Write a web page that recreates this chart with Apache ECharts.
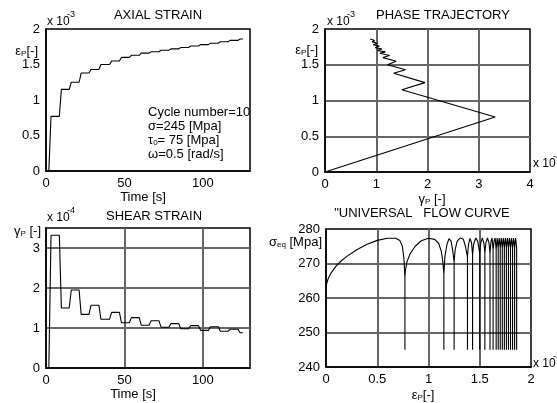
<!DOCTYPE html>
<html><head><meta charset="utf-8">
<script src="https://cdn.jsdelivr.net/npm/echarts@6/dist/echarts.min.js"></script>
<style>html,body{margin:0;padding:0;background:#fff}#c{width:557px;height:403px}</style>
</head><body><div id="c"></div>
<script>
// time points of the step transitions (s)
const stepTime = [0,
  1.8, 3.2, 8.5, 9.8, 14.8, 16.1, 21.1, 22.4, 27.4, 28.7,
  33.7, 35.0, 40.5, 41.8, 46.8, 48.1, 53.1, 54.4, 59.4, 60.7,
  65.7, 67.0, 72.0, 73.3, 78.3, 79.6, 84.6, 85.9, 90.9, 92.2,
  97.2, 98.5, 103.5, 104.8, 109.8, 111.1, 116.1, 117.4, 122.4, 123.7,
  125.5];
// axial plastic strain (x 1e-3)
const axialStrain = [0, 0,
  0.77, 0.77, 1.15, 1.15, 1.25, 1.25, 1.38, 1.38, 1.43, 1.43,
  1.50, 1.50, 1.55, 1.55, 1.60, 1.60, 1.63, 1.63, 1.66, 1.66,
  1.68, 1.68, 1.70, 1.70, 1.72, 1.72, 1.74, 1.74, 1.76, 1.76,
  1.78, 1.78, 1.80, 1.80, 1.82, 1.82, 1.84, 1.84, 1.86, 1.86];
// shear plastic strain (x 1e-4)
const shearStrain = [0, 0,
  3.32, 3.32, 1.50, 1.50, 1.95, 1.95, 1.34, 1.34, 1.57, 1.57,
  1.22, 1.22, 1.39, 1.39, 1.13, 1.13, 1.26, 1.26, 1.07, 1.07,
  1.18, 1.18, 1.02, 1.02, 1.11, 1.11, 0.98, 0.98, 1.06, 1.06,
  0.94, 0.94, 1.03, 1.03, 0.92, 0.92, 0.97, 0.97, 0.88, 0.88];
// phase trajectory vertices
const phaseGamma = [0, 3.32, 1.50, 1.95, 1.34, 1.57, 1.22, 1.39, 1.13, 1.26, 1.07,
  1.18, 1.02, 1.11, 0.98, 1.06, 0.94, 1.03, 0.92, 0.97, 0.88];
const phaseEps = [0, 0.77, 1.15, 1.25, 1.38, 1.43, 1.50, 1.55, 1.60, 1.63, 1.66,
  1.68, 1.70, 1.72, 1.74, 1.76, 1.78, 1.80, 1.82, 1.84, 1.86];
// universal flow curve
const flowEps = [
  0, 0.02, 0.05, 0.1, 0.15, 0.2, 0.3, 0.4, 0.5, 0.6, 0.68, 0.72, 0.745, 0.76, 0.77, 0.77, 0.77,
  0.775, 0.79, 0.82, 0.87, 0.93, 1.0, 1.06, 1.1, 1.125, 1.14, 1.15, 1.15, 1.15,
  1.16, 1.18, 1.2, 1.22, 1.235, 1.25, 1.25, 1.25,
  1.26, 1.28, 1.31, 1.34, 1.36, 1.38, 1.38, 1.38,
  1.39, 1.405, 1.42, 1.43, 1.43, 1.43,
  1.44, 1.46, 1.48, 1.50, 1.50, 1.50,
  1.51, 1.525, 1.54, 1.55, 1.55, 1.55,
  1.56, 1.575, 1.59, 1.60, 1.60, 1.60,
  1.61, 1.62, 1.63, 1.63, 1.63,
  1.64, 1.65, 1.66, 1.66, 1.66,
  1.67, 1.68, 1.68, 1.68,
  1.69, 1.70, 1.70, 1.70,
  1.71, 1.72, 1.72, 1.72,
  1.73, 1.74, 1.74, 1.74,
  1.75, 1.76, 1.76, 1.76,
  1.77, 1.78, 1.78, 1.78,
  1.79, 1.80, 1.80, 1.80,
  1.81, 1.82, 1.82, 1.82,
  1.83, 1.84, 1.84, 1.84,
  1.85, 1.86, 1.86, 1.86];
const flowSig = [
  263.5, 265.5, 267.3, 269.3, 270.8, 272, 274, 275.6, 276.7, 277.3, 277.3, 276.7, 275, 271.5, 266, 245, 266,
  268, 270.5, 272.8, 275, 276.6, 277.3, 277, 275.8, 273.5, 270.5, 267, 245, 267,
  272, 275.5, 277.2, 276.5, 274, 270.5, 245, 270.5,
  274, 276.5, 277.4, 277, 275, 272, 245, 272,
  275.5, 277.3, 276, 272.5, 245, 272.5,
  275.5, 277.4, 276.5, 273, 245, 273,
  276, 277.4, 276, 273, 245, 273,
  276, 277.4, 276, 273, 245, 273,
  276.5, 277.4, 274, 245, 274,
  276.5, 277.4, 274, 245, 274,
  277.4, 274.5, 245, 274.5,
  277.4, 274.5, 245, 274.5,
  277.4, 274.5, 245, 274.5,
  277.4, 274.5, 245, 274.5,
  277.4, 274.5, 245, 274.5,
  277.4, 274.5, 245, 274.5,
  277.4, 274.5, 245, 274.5,
  277.4, 274.5, 245, 274.5,
  277.4, 274.5, 245, 274.5,
  277.4, 274.5, 245, 274.5];

const FONT = '"Liberation Sans", Arial, Helvetica, sans-serif';
const zip = (a, b) => a.map((v, i) => [v, b[i]]);

function axis(i, min, max, interval, split, showMax) {
  return {
    gridIndex: i, type: 'value', min: min, max: max, interval: interval,
    axisLine: {show: true, onZero: false, lineStyle: {color: '#000', width: 1.5}},
    axisTick: {show: false},
    axisLabel: {color: '#000', fontSize: 13, fontFamily: FONT, margin: 6, showMaxLabel: showMax},
    splitLine: {show: split, showMinLine: false, showMaxLine: false, lineStyle: {color: '#666', width: 2}}
  };
}
const xA = axis; 

function txt(x, y, text, o) {
  o = o || {};
  const align = o.align || 'left';
  const fs = o.size || 13;
  return {
    type: 'text', x: x, y: y, z: 100,
    style: {
      text: text, fill: '#000', font: fs + 'px ' + FONT,
      align: align, textAlign: align, verticalAlign: 'middle', textVerticalAlign: 'middle',
      rich: o.rich
    }
  };
}
const RICH = {
  n: {fontSize: 13, fontFamily: FONT, fill: '#000'},
  s: {fontSize: 8, fontFamily: FONT, fill: '#000', verticalAlign: 'bottom'}
};

const chart = echarts.init(document.getElementById('c'));
const lineStyle = {color: '#000', width: 1.1};
chart.setOption({
  animation: false,
  backgroundColor: '#fff',
  grid: [
    {left: 46, top: 29, width: 204, height: 142, show: true, borderColor: '#000', borderWidth: 1.5},
    {left: 325, top: 29, width: 205, height: 143, show: true, borderColor: '#000', borderWidth: 1.5},
    {left: 46, top: 228, width: 204, height: 140, show: true, borderColor: '#000', borderWidth: 1.5},
    {left: 326, top: 229, width: 205, height: 138, show: true, borderColor: '#000', borderWidth: 1.5}
  ],
  xAxis: [
    axis(0, 0, 130, 50, false, false),
    axis(1, 0, 4, 1, true, true),
    axis(2, 0, 130, 50, true, false),
    axis(3, 0, 2, 0.5, true, true)
  ],
  yAxis: [
    axis(0, 0, 2, 0.5, false, true),
    axis(1, 0, 2, 0.5, true, true),
    axis(2, 0, 3.5, 1, true, false),
    axis(3, 240, 280, 10, true, true)
  ],
  series: [
    {type: 'line', xAxisIndex: 0, yAxisIndex: 0, data: zip(stepTime, axialStrain), showSymbol: false, symbol: 'none', lineStyle: lineStyle},
    {type: 'line', xAxisIndex: 1, yAxisIndex: 1, data: zip(phaseGamma, phaseEps), showSymbol: false, symbol: 'none', lineStyle: lineStyle},
    {type: 'line', xAxisIndex: 2, yAxisIndex: 2, data: zip(stepTime, shearStrain), showSymbol: false, symbol: 'none', lineStyle: lineStyle},
    {type: 'line', xAxisIndex: 3, yAxisIndex: 3, data: zip(flowEps, flowSig), showSymbol: false, symbol: 'none', lineStyle: lineStyle}
  ],
  graphic: {elements: [
    txt(158, 15, 'AXIAL STRAIN', {align: 'center'}),
    txt(443, 15, 'PHASE TRAJECTORY', {align: 'center'}),
    txt(154, 216, 'SHEAR STRAIN', {align: 'center'}),
    txt(422, 213, '"UNIVERSAL   FLOW CURVE', {align: 'center'}),

    txt(47, 22, 'x 10', {size: 12}), txt(67, 15, '-3', {size: 9}),
    txt(327, 22, 'x 10', {size: 12}), txt(347, 15, '-3', {size: 9}),
    txt(533, 164, 'x 10', {size: 12}), txt(553, 157, '-4', {size: 9}),
    txt(47, 218, 'x 10', {size: 12}), txt(67, 211, '-4', {size: 9}),
    txt(533, 364, 'x 10', {size: 12}), txt(553, 357, '-3', {size: 9}),

    txt(38, 51, '{n|ε}{s|P}{n|[-]}', {align: 'right', rich: RICH}),
    txt(318, 50, '{n|ε}{s|P}{n|[-]}', {align: 'right', rich: RICH}),
    txt(41, 231, '{n|γ}{s|P}{n| [-]}', {align: 'right', rich: RICH}),
    txt(322, 242, '{n|σ}{s|eq}{n| [Mpa]}', {align: 'right', rich: RICH}),

    txt(143, 197, 'Time [s]', {align: 'center'}),
    txt(432, 199, '{n|γ}{s|P}{n| [-]}', {align: 'center', rich: RICH}),
    txt(133, 394, 'Time [s]', {align: 'center'}),
    txt(423, 395, '{n|ε}{s|P}{n|[-]}', {align: 'center', rich: RICH}),

    txt(148, 112, 'Cycle number=10'),
    txt(148, 126, 'σ=245 [Mpa]'),
    txt(148, 140, '{n|τ}{s|0}{n|= 75 [Mpa]}', {rich: RICH}),
    txt(148, 154, 'ω=0.5 [rad/s]')
  ]}
});
</script></body></html>
